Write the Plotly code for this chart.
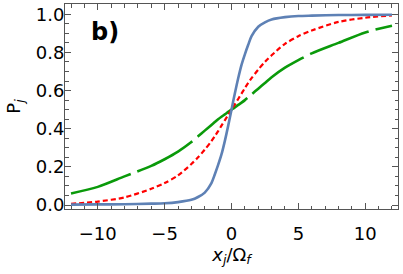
import plotly.graph_objects as go

x_vals = [-12, -10, -8, -6, -5, -4, -3, -2.5, -2, -1.5, -1.25, -1, -0.75, -0.5, -0.25, 0,
          0.25, 0.5, 0.75, 1, 1.25, 1.5, 2, 2.5, 3, 4, 5, 6, 8, 10, 12]

blue_vals = [0.002, 0.003, 0.004, 0.007, 0.009, 0.015, 0.027, 0.042, 0.065, 0.115, 0.16, 0.21,
             0.265, 0.335, 0.415, 0.5,
             0.585, 0.665, 0.735, 0.79, 0.84, 0.885, 0.935, 0.958, 0.973, 0.985, 0.991,
             0.993, 0.996, 0.997, 0.998]

red_vals = [0.006, 0.018, 0.04, 0.085, 0.115, 0.155, 0.215, 0.25, 0.29, 0.335, 0.36, 0.387,
            0.416, 0.444, 0.472, 0.5,
            0.528, 0.556, 0.584, 0.613, 0.64, 0.665, 0.71, 0.75, 0.785, 0.845, 0.885,
            0.915, 0.96, 0.982, 0.994]

green_vals = [0.06, 0.095, 0.15, 0.205, 0.24, 0.28, 0.33, 0.36, 0.39, 0.42, 0.435, 0.45,
              0.463, 0.475, 0.488, 0.5,
              0.512, 0.525, 0.537, 0.55, 0.565, 0.58, 0.61, 0.64, 0.67, 0.72, 0.76,
              0.795, 0.85, 0.905, 0.94]

x_ticks = [-10, -5, 0, 5, 10]
y_ticks = [0.0, 0.2, 0.4, 0.6, 0.8, 1.0]
y_tick_text = ["0.0", "0.2", "0.4", "0.6", "0.8", "1.0"]
x_tick_text = ["\u221210", "\u22125", "0", "5", "10"]

fig = go.Figure()
fig.add_trace(go.Scatter(x=x_vals, y=green_vals, mode="lines",
                         line=dict(color="#0A9A0A", width=2.6, dash="63px,7px", shape="spline", smoothing=0.8)))
fig.add_trace(go.Scatter(x=x_vals, y=red_vals, mode="lines",
                         line=dict(color="#FF0000", width=2.2, dash="5px,3px", shape="spline", smoothing=0.8)))
fig.add_trace(go.Scatter(x=x_vals, y=blue_vals, mode="lines",
                         line=dict(color="#5E81B5", width=2.6, shape="spline", smoothing=0.8)))

font = "DejaVu Sans"
frame = "#555555"
fig.update_layout(
    width=403, height=274,
    margin=dict(l=65, r=5, t=4, b=65),
    paper_bgcolor="white", plot_bgcolor="white",
    showlegend=False,
    font=dict(family=font, size=18, color="black"),
)
fig.update_xaxes(
    range=[-12.45, 12.45], tickvals=x_ticks, ticktext=x_tick_text,
    ticks="inside", ticklen=6, tickcolor=frame, tickwidth=1,
    showline=True, linecolor=frame, linewidth=1, mirror="ticks",
    showgrid=False, zeroline=False, ticklabelstandoff=8,
    minor=dict(dtick=1, ticks="inside", ticklen=3.5, tickcolor=frame, showgrid=False),
    title=dict(text="<i>x</i><sub><i>j</i></sub>/\u03a9<sub><i>f</i></sub>", font=dict(size=18), standoff=2),
)
fig.update_yaxes(
    range=[-0.021, 1.054], tickvals=y_ticks, ticktext=y_tick_text,
    ticks="inside", ticklen=6, tickcolor=frame, tickwidth=1,
    showline=True, linecolor=frame, linewidth=1, mirror="ticks",
    showgrid=False, zeroline=False, ticklabelstandoff=-4,
    minor=dict(dtick=0.05, tick0=0, ticks="inside", ticklen=3.5, tickcolor=frame, showgrid=False),
    title=dict(text="P<sub><i>j</i></sub>", font=dict(size=18), standoff=10),
)
fig.add_annotation(x=0.119, y=0.863, xref="paper", yref="paper", text="<b>b)</b>",
                   showarrow=False, font=dict(family=font, size=24, color="black"),
                   xanchor="center", yanchor="middle")
fig.write_html("out.html", config={"displayModeBar": False},
               post_script="document.body.style.margin='0';")
